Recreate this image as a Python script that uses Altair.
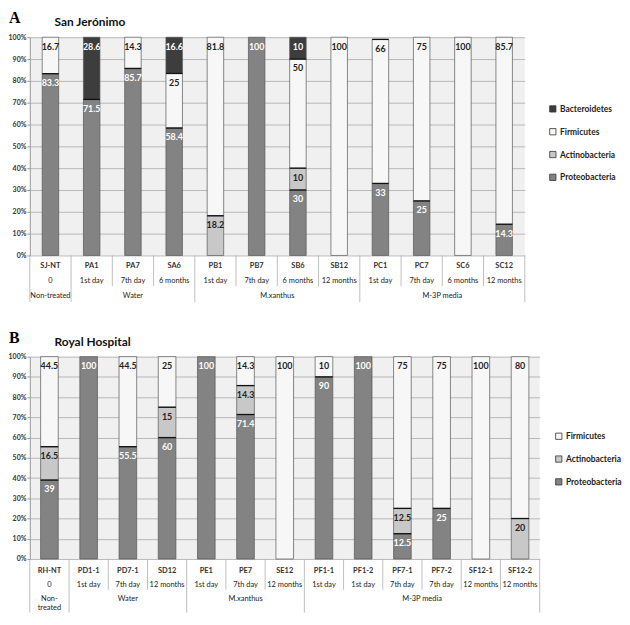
import altair as alt
import pandas as pd

# ---------------- data ----------------
a_samples = ["SJ-NT", "PA1", "PA7", "SA6", "PB1", "PB7", "SB6", "SB12", "PC1", "PC7", "SC6", "SC12"]
a_times = ["0", "1st day", "7th day", "6 months", "1st day", "7th day", "6 months", "12 months",
           "1st day", "7th day", "6 months", "12 months"]
a_groups = ["Non-treated", "Water", "M.xanthus", "M-3P media"]
a_group_sizes = [1, 3, 4, 4]
a_proteo = [83.3, 71.5, 85.7, 58.4, 0, 100, 30, 0, 33, 25, 0, 14.3]
a_actino = [0, 0, 0, 0, 18.2, 0, 10, 0, 0, 0, 0, 0]
a_firm = [16.7, 0, 14.3, 25, 81.8, 0, 50, 100, 66, 75, 100, 85.7]
a_bacter = [0, 28.6, 0, 16.6, 0, 0, 10, 0, 0, 0, 0, 0]

b_samples = ["RH-NT", "PD1-1", "PD7-1", "SD12", "PE1", "PE7", "SE12", "PF1-1", "PF1-2",
             "PF7-1", "PF7-2", "SF12-1", "SF12-2"]
b_times = ["0", "1st day", "7th day", "12 months", "1st day", "7th day", "12 months",
           "1st day", "1st day", "7th day", "7th day", "12 months", "12 months"]
b_groups = ["Non-\ntreated", "Water", "M.xanthus", "M-3P media"]
b_group_sizes = [1, 3, 3, 6]
b_proteo = [39, 100, 55.5, 60, 100, 71.4, 0, 90, 100, 12.5, 25, 0, 0]
b_actino = [16.5, 0, 0, 15, 0, 14.3, 0, 0, 0, 12.5, 0, 0, 20]
b_firm = [44.5, 0, 44.5, 25, 0, 14.3, 100, 10, 0, 75, 75, 100, 80]

PHYLUM_COLORS = {
    "Bacteroidetes": "#3d3d3d",
    "Firmicutes": "#f7f7f7",
    "Actinobacteria": "#c8c8c8",
    "Proteobacteria": "#838383",
}
FONT = "Lato"


def build_panel(letter, title, samples, times, groups, sizes, series, width, height,
                bar_frac, legend_x, legend_y, rows, sep_short, sep_long):
    n = len(samples)
    seg = []
    for i, s in enumerate(samples):
        base = 0.0
        for ph, vals in series:
            v = vals[i]
            if v > 0:
                seg.append({"idx": i, "sample": s, "phylum": ph, "value": v,
                            "y0": base, "y1": min(base + v, 100.0),
                            "label": f"{v:g}"})
                base += v
    seg_df = pd.DataFrame(seg)
    half = bar_frac / 2

    x_scale = alt.Scale(domain=[0, n], nice=False, zero=False)
    y_scale = alt.Scale(domain=[0, 100], nice=False, clamp=True)
    y_axis = alt.Axis(values=list(range(0, 101, 10)), labelExpr="datum.value + '%'",
                      grid=True, gridColor="#a9a9a9", gridWidth=0.8,
                      domainColor="#9a9a9a", tickColor="#9a9a9a", tickSize=3,
                      labelFont=FONT, labelFontSize=7, labelFontWeight="bold",
                      labelColor="#333", labelPadding=1, title=None)

    legend_domain = [p for p in ["Bacteroidetes", "Firmicutes", "Actinobacteria", "Proteobacteria"]
                     if p in [s[0] for s in series]]
    color = alt.Color("phylum:N",
                      scale=alt.Scale(domain=legend_domain,
                                      range=[PHYLUM_COLORS[p] for p in legend_domain]),
                      legend=alt.Legend(orient="none", legendX=legend_x, legendY=legend_y,
                                        title=None, symbolType="square", symbolSize=40,
                                        symbolStrokeColor="#333", symbolStrokeWidth=0.8,
                                        labelFont=FONT, labelFontSize=8.5, labelFontWeight="bold",
                                        labelColor="#222", rowPadding=12, labelOffset=3,
                                        padding=0))

    base = alt.Chart(seg_df).transform_calculate(
        x0=f"datum.idx + 0.5 - {half}", x1=f"datum.idx + 0.5 + {half}", xc="datum.idx + 0.5")

    bars = base.mark_bar(stroke="#555", strokeWidth=0.7).encode(
        x=alt.X("x0:Q", scale=x_scale, axis=None),
        x2="x1:Q",
        y=alt.Y("y0:Q", scale=y_scale, axis=y_axis),
        y2="y1:Q",
        color=color,
    )
    borders = base.transform_filter("datum.y1 < 99.9").mark_rule(
        color="#111", strokeWidth=1.3).encode(
        x=alt.X("x0:Q", scale=x_scale, axis=None), x2="x1:Q",
        y=alt.Y("y1:Q", scale=y_scale, axis=y_axis),
    )
    labels = base.mark_text(font=FONT, fontSize=9, fontWeight="bold", baseline="middle",
                            dy=9.5).encode(
        x=alt.X("xc:Q", scale=x_scale, axis=None),
        y=alt.Y("y1:Q", scale=y_scale, axis=y_axis),
        text="label:N",
        color=alt.condition(
            alt.FieldOneOfPredicate(field="phylum", oneOf=["Proteobacteria", "Bacteroidetes"]),
            alt.value("white"), alt.value("#222")),
    )

    cat_df = pd.DataFrame({"idx": list(range(n)), "sample": samples, "time": times})
    cat_base = alt.Chart(cat_df).transform_calculate(xc="datum.idx + 0.5")
    row1 = cat_base.mark_text(font=FONT, fontSize=7.5, fontWeight="bold", color="#333").encode(
        x=alt.X("xc:Q", scale=x_scale, axis=None), y=alt.value(height + rows[0]), text="sample:N")
    row2 = cat_base.mark_text(font=FONT, fontSize=7.5, color="#222").encode(
        x=alt.X("xc:Q", scale=x_scale, axis=None), y=alt.value(height + rows[1]), text="time:N")

    starts, acc = [], 0
    for s in sizes:
        starts.append(acc)
        acc += s
    grp_df = pd.DataFrame({"group": groups, "start": starts, "size": sizes})
    row3 = alt.Chart(grp_df).transform_calculate(
        gc="datum.start + datum.size / 2").mark_text(
        font=FONT, fontSize=7.5, color="#222", baseline="top", lineBreak="\n",
        lineHeight=9).encode(
        x=alt.X("gc:Q", scale=x_scale, axis=None), y=alt.value(height + rows[2]), text="group:N")

    long_pos = starts + [n]
    short_pos = [i for i in range(1, n) if i not in long_pos]
    long_df = pd.DataFrame({"pos": long_pos})
    short_df = pd.DataFrame({"pos": short_pos})
    long_rules = alt.Chart(long_df).mark_rule(color="#b0b0b0", strokeWidth=0.8).encode(
        x=alt.X("pos:Q", scale=x_scale, axis=None),
        y=alt.value(height), y2=alt.value(height + sep_long))
    short_rules = alt.Chart(short_df).mark_rule(color="#b0b0b0", strokeWidth=0.8).encode(
        x=alt.X("pos:Q", scale=x_scale, axis=None),
        y=alt.value(height), y2=alt.value(height + sep_short))

    letter_df = pd.DataFrame({"t": [letter]})
    letter_mark = alt.Chart(letter_df).mark_text(
        font="Liberation Serif", fontSize=16, fontWeight="bold", align="left",
        baseline="top", color="#000").encode(
        x=alt.value(-21), y=alt.value(-27), text="t:N")
    title_df = pd.DataFrame({"t": [title]})
    title_mark = alt.Chart(title_df).mark_text(
        font=FONT, fontSize=12, fontWeight="bold", align="left",
        baseline="middle", color="#111").encode(
        x=alt.value(25), y=alt.value(-15), text="t:N")

    return alt.layer(bars, borders, labels, long_rules, short_rules, row1, row2, row3,
                     letter_mark, title_mark).properties(width=width, height=height)


panel_a = build_panel(
    "A", "San Jerónimo", a_samples, a_times, a_groups, a_group_sizes,
    [("Proteobacteria", a_proteo), ("Actinobacteria", a_actino),
     ("Firmicutes", a_firm), ("Bacteroidetes", a_bacter)],
    width=499, height=220, bar_frac=0.4, legend_x=523, legend_y=68,
    rows=(11, 26, 37), sep_short=31, sep_long=47)

panel_b = build_panel(
    "B", "Royal Hospital", b_samples, b_times, b_groups, b_group_sizes,
    [("Proteobacteria", b_proteo), ("Actinobacteria", b_actino), ("Firmicutes", b_firm)],
    width=514, height=204, bar_frac=0.45, legend_x=529, legend_y=76,
    rows=(12, 26, 36), sep_short=31, sep_long=54)

chart = alt.vconcat(panel_a, panel_b, spacing=27).resolve_scale(
    x="independent", y="independent", color="independent"
).resolve_legend(color="independent").properties(
    padding=0
).configure_view(fill="#f0f0f0", strokeWidth=0)

chart.save("out.html", embed_options={"renderer": "svg", "actions": False})
